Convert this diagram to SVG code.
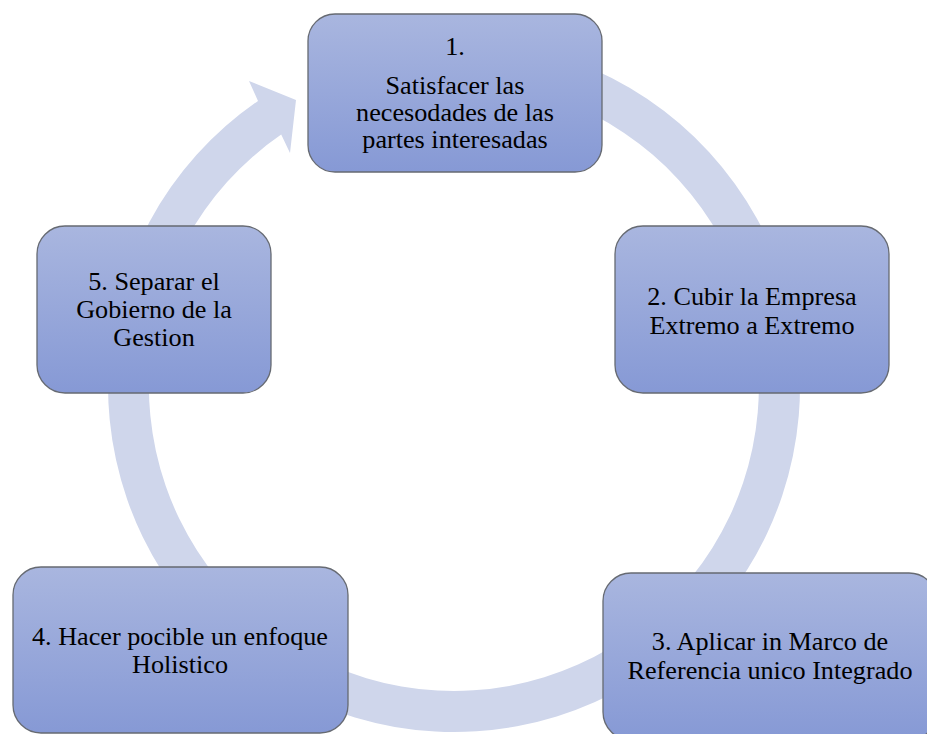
<svg xmlns="http://www.w3.org/2000/svg" width="927" height="734" viewBox="0 0 927 734">
  <defs>
    <linearGradient id="nodeFill" x1="0" y1="0" x2="0" y2="1">
      <stop offset="0" stop-color="#A9B6DF"/>
      <stop offset="1" stop-color="#8699D5"/>
    </linearGradient>
  </defs>
  <style>
    .ring { fill: #CFD6EB; stroke: none; }
    .node rect { fill: url(#nodeFill); stroke: #666a72; stroke-width: 1.3; }
    .node text { font-family: 'Liberation Serif', 'Times New Roman', serif; font-size: 26.2px; fill: #000; text-anchor: middle; }
  </style>
  <g id="connectors">
    <path class="ring" d="M 454 40 A 346 346 0 1 1 258 100.9 L 249 81 L 296 100 L 290 153 L 281.2 134.6 A 305 305 0 1 0 454 81 Z"/>
  </g>
  <g id="node1" class="node">
    <rect x="308" y="14" width="294" height="158" rx="27" ry="27"/>
    <text x="455" y="55">1.</text>
    <text x="455" y="94">Satisfacer las</text>
    <text x="455" y="121">necesodades de las</text>
    <text x="455" y="148">partes interesadas</text>
  </g>
  <g id="node2" class="node">
    <rect x="615" y="226" width="274" height="167" rx="28" ry="28"/>
    <text x="752" y="305">2. Cubir la Empresa</text>
    <text x="752" y="334">Extremo a Extremo</text>
  </g>
  <g id="node3" class="node">
    <rect x="603" y="573" width="334" height="167" rx="28" ry="28"/>
    <text x="770" y="650">3. Aplicar in Marco de</text>
    <text x="770" y="679">Referencia unico Integrado</text>
  </g>
  <g id="node4" class="node">
    <rect x="13" y="567" width="335" height="166" rx="28" ry="28"/>
    <text x="180" y="645">4. Hacer pocible un enfoque</text>
    <text x="180" y="673">Holistico</text>
  </g>
  <g id="node5" class="node">
    <rect x="37" y="226" width="234" height="167" rx="28" ry="28"/>
    <text x="154" y="290">5. Separar el</text>
    <text x="154" y="318">Gobierno de la</text>
    <text x="154" y="346">Gestion</text>
  </g>
</svg>
